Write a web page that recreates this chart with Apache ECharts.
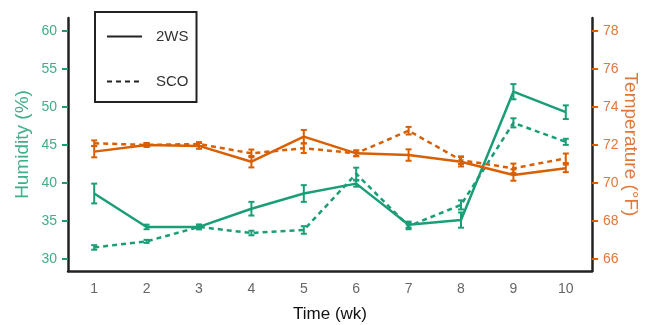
<!DOCTYPE html>
<html>
<head>
<meta charset="utf-8">
<script src="https://cdn.jsdelivr.net/npm/echarts@6/dist/echarts.min.js"></script>
<style>
	html, body { margin: 0; padding: 0; background: #fff; }
	#main { width: 646px; height: 325px; }
</style>
</head>
<body>
<div id="main"></div>
<script>
/*---------------数据---------------*/
var weeks = ['1', '2', '3', '4', '5', '6', '7', '8', '9', '10'];
var humTicks = [30, 35, 40, 45, 50, 55, 60];
var tempTicks = [66, 68, 70, 72, 74, 76, 78];

var hum2ws = [38.6, 34.2, 34.2, 36.6, 38.6, 39.9, 34.5, 35.1, 52.0, 49.3];
var hum2wsErr = [1.3, 0.3, 0.3, 0.9, 1.1, 0.4, 0.4, 1.0, 1.0, 0.9];
var humSco = [31.5, 32.3, 34.2, 33.4, 33.8, 41.2, 34.3, 37.1, 47.9, 45.4];
var humScoErr = [0.3, 0.2, 0.3, 0.3, 0.5, 0.8, 0.4, 0.6, 0.6, 0.4];

var temp2ws = [71.65, 72.0, 71.95, 71.12, 72.44, 71.56, 71.47, 71.12, 70.42, 70.77];
var temp2wsErr = [0.3, 0.1, 0.15, 0.3, 0.35, 0.15, 0.3, 0.25, 0.3, 0.2];
var tempSco = [72.09, 72.0, 72.05, 71.56, 71.83, 71.56, 72.75, 71.2, 70.77, 71.3];
var tempScoErr = [0.15, 0.1, 0.1, 0.2, 0.25, 0.15, 0.2, 0.2, 0.25, 0.25];

var green = '#1b9e77';
var orange = '#d95f02';
var font = 'Liberation Sans, Arial, sans-serif';

/*---------------误差线---------------*/
function errData(mean, err) {
	return mean.map(function(v, i) {
		return [i, v, err[i]];
	});
}

function errSeries(mean, err, color, yIndex) {
	return {
		type: 'custom',
		yAxisIndex: yIndex,
		silent: true,
		z: 3,
		data: errData(mean, err),
		renderItem: function(params, api) {
			var x = api.value(0), v = api.value(1), e = api.value(2);
			var top = api.coord([x, v + e]);
			var bot = api.coord([x, v - e]);
			var w = 3;
			var style = { stroke: color, lineWidth: 2 };
			return {
				type: 'group',
				children: [
					{ type: 'line', shape: { x1: top[0], y1: top[1], x2: bot[0], y2: bot[1] }, style: style },
					{ type: 'line', shape: { x1: top[0] - w, y1: top[1], x2: top[0] + w, y2: top[1] }, style: style },
					{ type: 'line', shape: { x1: bot[0] - w, y1: bot[1], x2: bot[0] + w, y2: bot[1] }, style: style }
				]
			};
		}
	};
}

function lineSeries(name, data, color, dashed, yIndex, width) {
	return {
		type: 'line',
		name: name,
		yAxisIndex: yIndex,
		data: data,
		symbol: 'none',
		z: 2,
		lineStyle: { color: color, width: width || 2.5, type: dashed ? [5, 4] : 'solid' },
		itemStyle: { color: color }
	};
}

/*---------------图表---------------*/
echarts.init(document.getElementById('main')).setOption({
	backgroundColor: '#fff',
	animation: false,
	grid: { left: 68, right: 54, top: 18, bottom: 54, containLabel: false, outerBoundsMode: 'none' },
	legend: {
		orient: 'vertical',
		left: 95,
		top: 12,
		padding: [17, 8, 13, 11],
		itemGap: 30,
		itemWidth: 35,
		itemHeight: 14,
		borderColor: '#222',
		borderWidth: 2,
		itemStyle: { opacity: 0 },
		data: ['2WS', 'SCO'],
		textStyle: { color: '#333', fontSize: 15, fontFamily: font, padding: [0, 0, 0, 9] }
	},
	xAxis: {
		type: 'category',
		data: weeks,
		boundaryGap: true,
		name: 'Time (wk)',
		nameLocation: 'middle',
		nameGap: 35,
		nameMoveOverlap: false,
		nameTextStyle: { color: '#111', fontSize: 17, fontFamily: font },
		axisLine: { lineStyle: { color: '#222', width: 2.5 } },
		axisTick: { alignWithLabel: true, length: 5, lineStyle: { color: '#444', width: 2 } },
		axisLabel: { color: '#666', fontSize: 14, fontFamily: font, margin: 11 },
		splitLine: { show: false }
	},
	yAxis: [{
		type: 'value',
		min: 28.4,
		max: 61.7,
		position: 'left',
		name: 'Humidity (%)',
		nameLocation: 'middle',
		nameGap: 36,
		nameMoveOverlap: false,
		nameTextStyle: { color: '#3fae8a', fontSize: 19, fontFamily: font },
		axisLine: { show: true, lineStyle: { color: '#222', width: 2.5 } },
		axisTick: { show: true, customValues: humTicks, length: 6, lineStyle: { color: green, width: 2 } },
		axisLabel: { customValues: humTicks, color: '#3fae8a', fontSize: 14, fontFamily: font, margin: 11 },
		splitLine: { show: false }
	}, {
		type: 'value',
		min: 65.37,
		max: 78.68,
		position: 'right',
		name: 'Temperature (\u00b0F)',
		nameLocation: 'middle',
		nameRotate: -90,
		nameGap: 29,
		nameMoveOverlap: false,
		nameTextStyle: { color: '#e2773a', fontSize: 19, fontFamily: font },
		axisLine: { show: true, lineStyle: { color: '#222', width: 2.5 } },
		axisTick: { show: true, customValues: tempTicks, length: 6, lineStyle: { color: orange, width: 2 } },
		axisLabel: { customValues: tempTicks, color: '#e2773a', fontSize: 14, fontFamily: font, margin: 11 },
		splitLine: { show: false }
	}],
	series: [
		lineSeries('Humidity 2WS', hum2ws, green, false, 0),
		lineSeries('Humidity SCO', humSco, green, true, 0),
		lineSeries('Temperature 2WS', temp2ws, orange, false, 1),
		lineSeries('Temperature SCO', tempSco, orange, true, 1),
		errSeries(hum2ws, hum2wsErr, green, 0),
		errSeries(humSco, humScoErr, green, 0),
		errSeries(temp2ws, temp2wsErr, orange, 1),
		errSeries(tempSco, tempScoErr, orange, 1),
		// 图例用的空系列
		lineSeries('2WS', [], '#222', false, 0, 3),
		lineSeries('SCO', [], '#222', true, 0, 3)
	]
});
</script>
</body>
</html>
